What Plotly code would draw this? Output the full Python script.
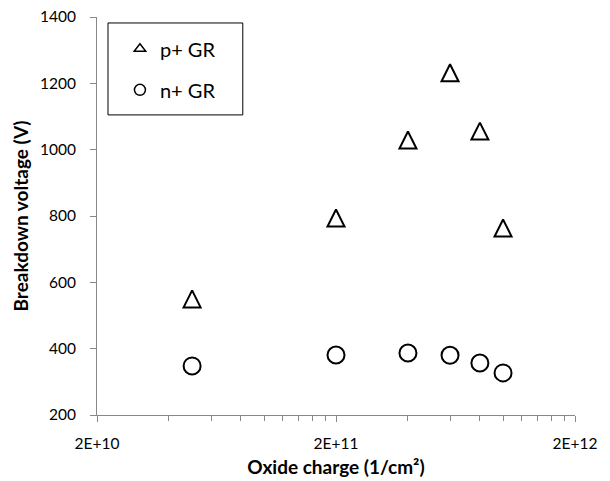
import plotly.graph_objects as go

oxide_charge = [5e10, 2e11, 4e11, 6e11, 8e11, 1e12]
p_gr = [550, 794, 1029, 1232, 1056, 764]
n_gr = [348, 381, 387, 380, 357, 327]

x_tickvals = [2e10, 2e11, 2e12]
x_ticktext = ["2E+10", "2E+11", "2E+12"]
x_minor = [2e10 * k for k in range(2, 10)] + [2e11 * k for k in range(2, 10)]
y_tickvals = [200, 400, 600, 800, 1000, 1200, 1400]

FONT = "Lato"

fig = go.Figure()
fig.add_trace(go.Scatter(
    x=oxide_charge, y=p_gr, mode="markers", name="p+ GR",
    showlegend=False,
    marker=dict(symbol="arrow-down-open", angle=180, size=17, standoff=8.5,
                color="black", line=dict(color="black", width=2)),
))
fig.add_trace(go.Scatter(
    x=oxide_charge, y=n_gr, mode="markers", name="n+ GR",
    showlegend=False,
    marker=dict(symbol="circle-open", size=17,
                color="black", line=dict(color="black", width=2)),
))
# legend entries (small legend symbols as in the reference)
fig.add_trace(go.Scatter(
    x=[None], y=[None], mode="markers", name="p+ GR", legendgroup="a",
    marker=dict(symbol="triangle-up-open", size=10, color="black",
                line=dict(color="black", width=1.5)),
))
fig.add_trace(go.Scatter(
    x=[None], y=[None], mode="markers", name="n+ GR", legendgroup="b",
    marker=dict(symbol="circle-open", size=11, color="black",
                line=dict(color="black", width=1.5)),
))

fig.add_shape(type="rect", xref="paper", yref="paper",
              x0=0.023, x1=0.305, y0=0.754, y1=0.985,
              line=dict(color="black", width=1), fillcolor="rgba(0,0,0,0)")

fig.update_layout(
    width=602, height=473,
    margin=dict(l=89, r=35, t=9, b=66, autoexpand=False),
    paper_bgcolor="white", plot_bgcolor="white",
    font=dict(family=FONT, size=15, color="black"),
    showlegend=True,
    legend=dict(
        x=0.048, y=0.969, xanchor="left", yanchor="top",
        borderwidth=0, bgcolor="rgba(0,0,0,0)",
        font=dict(family=FONT, size=20, color="black"),
        traceorder="grouped", tracegroupgap=12,
    ),
)
fig.update_xaxes(
    type="log", range=[10.30103, 12.30103],
    tickvals=x_tickvals, ticktext=x_ticktext,
    ticks="outside", ticklen=6, tickcolor="#888888",
    ticklabelstandoff=8, ticklabeloverflow="allow", automargin=False,
    showline=True, linecolor="#888888", linewidth=1,
    showgrid=False, zeroline=False,
    minor=dict(tickvals=x_minor, ticks="outside", ticklen=5, tickcolor="#888888", showgrid=False),
    tickfont=dict(family=FONT, size=15.5, color="black"),
    title=dict(text="<b>Oxide charge (1/cm²)</b>", font=dict(family=FONT, size=19, color="black"), standoff=10),
)
fig.update_yaxes(
    range=[200, 1400], tickvals=y_tickvals,
    ticks="outside", ticklen=6, tickcolor="#888888",
    ticklabelstandoff=11, ticklabeloverflow="allow", automargin=False,
    showline=True, linecolor="#888888", linewidth=1,
    showgrid=False, zeroline=False,
    tickfont=dict(family=FONT, size=15.5, color="black"),
    title=dict(text="<b>Breakdown voltage (V)</b>", font=dict(family=FONT, size=19, color="black"), standoff=6),
)

fig.write_html("out.html")
